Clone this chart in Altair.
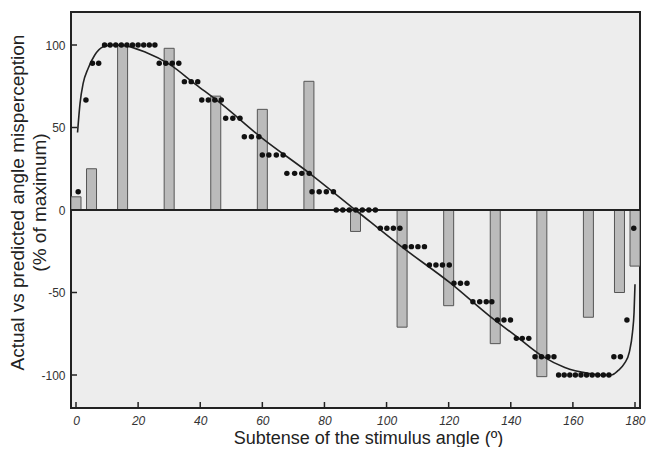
import altair as alt
import pandas as pd

# Bars: actual misperception (% of maximum)
bar_x = [0, 5, 15, 30, 45, 60, 75, 90, 105, 120, 135, 150, 165, 175, 180]
bar_y = [8, 25, 100, 98, 69, 61, 78, -13, -71, -58, -81, -101, -65, -50, -34]

# Dots: predicted (quantised) misperception
dot_x = [0.7, 3.2, 5.3, 7.3,
         9.2, 11.0, 12.8, 14.6, 16.4, 18.2, 20.0, 21.8, 23.6, 25.4,
         26.8, 28.9, 31.0, 33.1,
         34.9, 37.1, 39.2,
         40.5, 42.6, 44.7, 46.8,
         48.2, 50.5, 52.8,
         54.2, 56.5, 58.9,
         60.0, 62.1, 64.5, 66.7,
         67.9, 70.4, 72.7, 75.1,
         76.0, 78.3, 80.6, 82.9,
         83.8, 85.9, 88.0, 90.1, 92.2, 94.3, 96.4,
         98.0, 100.1, 102.2, 104.3,
         105.9, 108.0, 110.1, 112.2,
         113.8, 115.9, 118.0, 120.2,
         121.7, 123.8, 125.9,
         127.8, 130.0, 132.1, 133.9,
         135.7, 137.8, 139.9,
         141.8, 143.7, 145.8,
         147.8, 149.9, 152.0, 153.9,
         155.4, 157.2, 159.0, 160.8, 162.6, 164.4, 166.2, 168.0, 169.8, 171.6,
         173.2, 175.3,
         177.4,
         179.6]
dot_y = [11.1, 66.7, 88.9, 88.9,
         100, 100, 100, 100, 100, 100, 100, 100, 100, 100,
         88.9, 88.9, 88.9, 88.9,
         77.8, 77.8, 77.8,
         66.7, 66.7, 66.7, 66.7,
         55.6, 55.6, 55.6,
         44.4, 44.4, 44.4,
         33.3, 33.3, 33.3, 33.3,
         22.2, 22.2, 22.2, 22.2,
         11.1, 11.1, 11.1, 11.1,
         0, 0, 0, 0, 0, 0, 0,
         -11.1, -11.1, -11.1, -11.1,
         -22.2, -22.2, -22.2, -22.2,
         -33.3, -33.3, -33.3, -33.3,
         -44.4, -44.4, -44.4,
         -55.6, -55.6, -55.6, -55.6,
         -66.7, -66.7, -66.7,
         -77.8, -77.8, -77.8,
         -88.9, -88.9, -88.9, -88.9,
         -100, -100, -100, -100, -100, -100, -100, -100, -100, -100,
         -88.9, -88.9,
         -66.7,
         -11.1]

# Smooth model curve
curve_x = [0.5, 1.3, 2.3, 3.9, 6.0, 8.6, 11.8, 15.0, 22.6, 30.0, 38.4, 46.8, 59.5, 75.3,
           90.0, 104.7, 120.5, 133.2, 141.6, 150.0, 157.4, 165.0, 169.0, 172.4, 174.5,
           176.6, 178.2, 179.2, 179.7, 180.0]
curve_y = [47, 64.6, 76.7, 85.8, 93.8, 98.8, 100, 99.8, 95.4, 88.4, 76.3, 64.3, 44.2, 22.1,
           0, -22.1, -44.2, -64.3, -76.3, -88.4, -95.4, -99, -100, -100, -97.4,
           -93, -86, -74, -62, -45]

x_ticks = [0, 20, 40, 60, 80, 100, 120, 140, 160, 180]
y_ticks = [-100, -50, 0, 50, 100]

bars = pd.DataFrame({"x": bar_x, "y": bar_y})
dots = pd.DataFrame({"x": dot_x, "y": dot_y})
curve = pd.DataFrame({"x": curve_x, "y": curve_y})
xt = pd.DataFrame({"x": x_ticks})
yt = pd.DataFrame({"y": y_ticks})

xscale = alt.Scale(domain=[0, 180], nice=False)
yscale = alt.Scale(domain=[-120, 120], nice=False)

xaxis = alt.Axis(values=x_ticks, grid=False, ticks=False, domain=False,
                 labelFontStyle="italic", labelFontSize=12, labelColor="#333",
                 labelPadding=7, title="Subtense of the stimulus angle (º)",
                 titleFontSize=18, titleFontWeight="normal", titleColor="#222",
                 titlePadding=3, titleX=297)
yaxis = alt.Axis(values=y_ticks, grid=False, ticks=False, domain=False,
                 labelFontSize=12, labelColor="#333", labelPadding=6,
                 labelExpr="'' + datum.value",
                 title=["Actual vs predicted angle misperception", "(% of maximum)"],
                 titleFontSize=19, titleFontWeight="normal", titleColor="#222",
                 titleLineHeight=22, titlePadding=-9, titleY=190)

bar_layer = alt.Chart(bars).mark_bar(size=10, color="#bbbbbb", stroke="#555",
                                     strokeWidth=1, clip=True).encode(
    x=alt.X("x:Q", scale=xscale, axis=xaxis),
    y=alt.Y("y:Q", scale=yscale, axis=yaxis),
    y2=alt.datum(0),
)

zero = alt.Chart(yt).transform_filter("datum.y == 0").mark_rule(
    color="#222", strokeWidth=2).encode(
    y=alt.Y("y:Q", scale=yscale), x=alt.value(0), x2=alt.value(569))

line = alt.Chart(curve).mark_line(color="#222", strokeWidth=1.6,
                                  interpolate="monotone", clip=True).encode(
    x=alt.X("x:Q", scale=xscale), y=alt.Y("y:Q", scale=yscale))

points = alt.Chart(dots).mark_circle(size=30, color="#111", opacity=1).encode(
    x=alt.X("x:Q", scale=xscale), y=alt.Y("y:Q", scale=yscale))

xtick_layer = alt.Chart(xt).mark_rule(color="#222", strokeWidth=1.5).encode(
    x=alt.X("x:Q", scale=xscale), y=alt.value(396), y2=alt.value(390))
ytick_layer = alt.Chart(yt).mark_rule(color="#222", strokeWidth=1.5).encode(
    y=alt.Y("y:Q", scale=yscale), x=alt.value(0), x2=alt.value(6))

chart = alt.layer(bar_layer, zero, line, points, xtick_layer, ytick_layer).properties(
    width=569, height=396,
    padding={"left": 0, "top": 4, "right": 5, "bottom": 0},
    background="white",
).configure_view(
    fill="#ededed", stroke="#222", strokeWidth=2
).configure_axis(
    labelFont="Liberation Sans", titleFont="Liberation Sans"
)

chart.save("out.html", embed_options={"renderer": "svg", "actions": False})
